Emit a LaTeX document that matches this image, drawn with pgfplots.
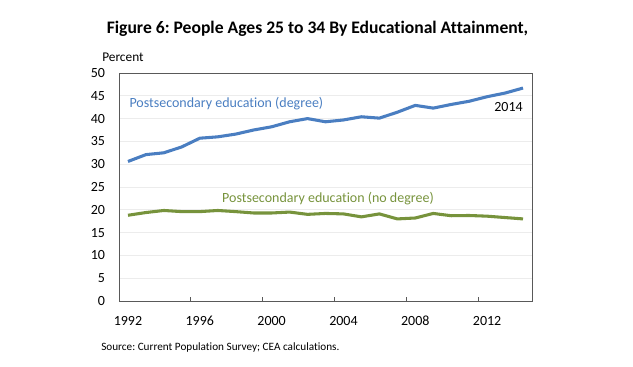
\documentclass[border=0pt]{standalone}
\usepackage{fontspec}
\setmainfont{Carlito}[Ligatures=NoCommon]
\usepackage{pgfplots}
\pgfplotsset{compat=1.18}
\definecolor{degblue}{RGB}{74,126,193}
\definecolor{nodeg}{RGB}{119,147,60}
\frenchspacing
\begin{document}
\begin{tikzpicture}
\useasboundingbox (0,0) rectangle (474.75pt,275.25pt);
\node[font=\bfseries\fontsize{13.2}{15}\selectfont] at (238.1pt,253.5pt) {Figure 6: People Ages 25 to 34 By Educational Attainment,};
\node[anchor=west, font=\fontsize{10}{12}\selectfont, inner sep=0pt] at (76.5pt,232.5pt) {Percent};
\node[anchor=west, font=\fontsize{8.4}{10}\selectfont, inner sep=0pt] at (75.75pt,14.25pt) {Source: Current Population Survey; CEA calculations.};
\begin{axis}[
  at={(89.25pt,49.5pt)}, anchor=south west,
  scale only axis, width=309.75pt, height=171pt,
  xmin=1991.5, xmax=2014.5, ymin=0, ymax=50,
  ytick={0,5,...,50},
  xtick={1992,1996,2000,2004,2008,2012},
  xticklabels={1992,1996,2000,2004,2008,2012},
  minor xtick={1995.5,1999.5,2003.5,2007.5,2011.5},
  major tick length=0pt, minor tick length=3pt,
  xtick pos=bottom, ytick pos=left,
  tick align=inside,
  minor tick style={gray!70!black, line width=0.6pt},
  ymajorgrids, grid style={gray!15, line width=0.6pt},
  axis line style={gray!70!black, line width=0.7pt},
  tick label style={font=\fontsize{10.5}{12}\selectfont, black},
  /pgf/number format/assume math mode=true,
  yticklabel style={xshift=-7pt},
  xticklabel style={yshift=-8pt},
  clip=false,
]
\addplot[degblue, line width=2.3pt] coordinates {
(1992,30.6) (1993,32.1) (1994,32.5) (1995,33.8) (1996,35.7) (1997,36.0)
(1998,36.6) (1999,37.5) (2000,38.2) (2001,39.3) (2002,40.0) (2003,39.3)
(2004,39.7) (2005,40.4) (2006,40.1) (2007,41.4) (2008,42.9) (2009,42.3)
(2010,43.1) (2011,43.8) (2012,44.8) (2013,45.6) (2014,46.7)};
\addplot[nodeg, line width=2.3pt] coordinates {
(1992,18.8) (1993,19.4) (1994,19.85) (1995,19.6) (1996,19.6) (1997,19.85)
(1998,19.6) (1999,19.3) (2000,19.3) (2001,19.5) (2002,19.0) (2003,19.2)
(2004,19.1) (2005,18.45) (2006,19.1) (2007,18.0) (2008,18.2) (2009,19.2)
(2010,18.7) (2011,18.75) (2012,18.6) (2013,18.3) (2014,18.0)};
\node[anchor=west, inner sep=0pt, text=degblue, font=\fontsize{10.5}{12}\selectfont] at (axis cs:1992.07,43.2) {Postsecondary education (degree)};
\node[anchor=east, inner sep=0pt, font=\fontsize{10.5}{12}\selectfont] at (axis cs:2014,42.6) {2014};
\node[inner sep=0pt, text=nodeg, font=\fontsize{10.5}{12}\selectfont] at (axis cs:2003.14,22.5) {Postsecondary education (no degree)};
\end{axis}
\end{tikzpicture}
\end{document}
